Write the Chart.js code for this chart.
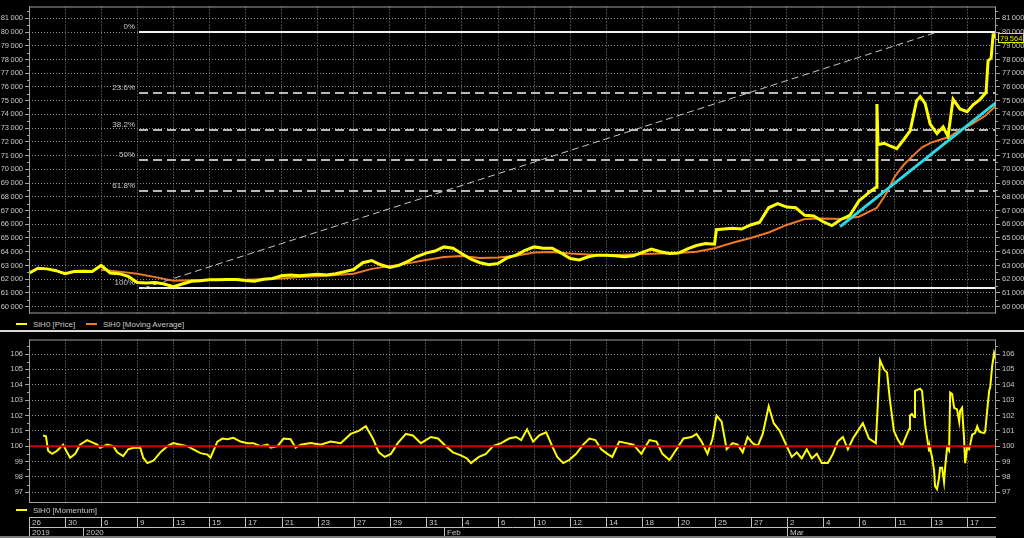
<!DOCTYPE html>
<html>
<head>
<meta charset="utf-8">
<title>SiH0</title>
<script src="https://cdn.jsdelivr.net/npm/chart.js@4.4.1/dist/chart.umd.min.js"></script>
<style>
    body { margin: 0; background: #000; width: 1024px; height: 538px; overflow: hidden; position: relative; font-family: "Liberation Sans", Arial, sans-serif; }
    canvas { position: absolute; left: 0; }
    #priceChart { top: 0; }
    #momChart { top: 333px; }
    .sep { position: absolute; left: 0; top: 330px; width: 1024px; height: 2px; background: #d8d8d8; }
    .legend { position: absolute; font-size: 8px; color: #c8c8c8; white-space: nowrap; line-height: 10px; }
    .legend i { display: inline-block; width: 11px; height: 2px; vertical-align: middle; margin-right: 6px; margin-top: -1px; }
</style>
</head>
<body>
<canvas id="priceChart" width="1024" height="320"></canvas>
<div class="legend" style="left:16px; top:320px;"><i style="background:#ffff00"></i>SiH0 [Price]</div>
<div class="legend" style="left:86px; top:320px;"><i style="background:#f07a22"></i>SiH0 [Moving Average]</div>
<div class="sep"></div>
<canvas id="momChart" width="1024" height="205"></canvas>
<div class="legend" style="left:16px; top:506px;"><i style="background:#ffff00"></i>SiH0 [Momentum]</div>

<script>
// x is a trading-day index: 0 = 26 Dec 2019, one unit per session
const xMax = 53.6;

// bottom axis labels
const dayTickIdx = [0, 2, 4, 6, 8, 10, 12, 14, 16, 18, 20, 22, 24, 26, 28, 30, 32, 34, 36, 38, 40, 42, 44, 46, 48, 50, 52];
const dayLabels = ['26', '30', '6', '9', '13', '15', '17', '21', '23', '27', '29', '31', '4', '6', '10', '12', '14', '18', '20', '25', '27', '2', '4', '6', '11', '13', '17'];
const periodIdx = [0, 3, 23, 42];
const periodLabels = ['2019', '2020', 'Feb', 'Mar'];

// price panel
const priceTicks = [60000, 61000, 62000, 63000, 64000, 65000, 66000, 67000, 68000, 69000, 70000,
    71000, 72000, 73000, 74000, 75000, 76000, 77000, 78000, 79000, 80000, 81000];

const priceX = [0, 0.5, 1, 1.5, 2, 2.5, 3, 3.5, 4, 4.5, 5, 5.5, 6, 6.5, 7, 7.5, 8, 8.5, 9, 9.5,
    10, 10.5, 11, 11.5, 12, 12.5, 13, 13.5, 14, 14.5, 15, 15.5, 16, 16.5, 17, 17.5, 18, 18.5, 19, 19.5,
    20, 20.5, 21, 21.5, 22, 22.5, 23, 23.5, 24, 24.5, 25, 25.5, 26, 26.5, 27, 27.5, 28, 28.5, 29, 29.5,
    30, 30.5, 31, 31.5, 32, 32.5, 33, 33.5, 34, 34.5, 35, 35.5, 36, 36.5, 37, 37.5, 38, 38.1, 38.5, 39, 39.5,
    40, 40.5, 41, 41.5, 42, 42.5, 43, 43.5, 44, 44.5, 45, 45.5, 46, 46.5, 46.95, 47.0, 47.06, 47.4, 47.73, 48.1, 48.45, 48.84,
    49.2, 49.4, 49.67, 49.95, 50.33, 50.67, 50.94, 51.22, 51.6, 52.0, 52.33, 52.72, 53.05, 53.16, 53.33, 53.44, 53.55, 53.6];
const priceY = [62440, 62800, 62750, 62620, 62400, 62560, 62580, 62560, 63000, 62450, 62400, 62200, 61750, 61720, 61760, 61650, 61450, 61650, 61850, 61880,
    61950, 61950, 61980, 61980, 61900, 61850, 62000, 62050, 62250, 62300, 62250, 62300, 62350, 62300, 62400, 62550, 62700, 63200, 63350, 63050,
    62850, 63000, 63300, 63650, 63900, 64050, 64350, 64250, 63850, 63450, 63200, 63050, 63150, 63550, 63750, 64100, 64350, 64250, 64250, 63900,
    63500, 63400, 63630, 63750, 63750, 63700, 63630, 63700, 63950, 64200, 64000, 63870, 63900, 64200, 64450, 64600, 64550, 65600, 65650, 65700, 65650,
    65950, 66150, 67200, 67500, 67250, 67200, 66650, 66600, 66200, 65900, 66350, 66650, 67700, 68250, 68700, 74750, 71800, 71900, 71700, 71500, 72100, 72800,
    75000, 75300, 74800, 73300, 72600, 73100, 72400, 75100, 74400, 74200, 74700, 75100, 75600, 77900, 78100, 79800, 79800, 79564];
const lastPrice = 79564;

const maX = [4, 5, 6, 7, 8, 9, 10, 11, 12, 13, 14, 15, 16, 17, 18, 19, 20, 21, 22, 23, 24, 25, 26, 27, 28, 29,
    30, 31, 32, 33, 34, 35, 36, 37, 38, 39, 40, 41, 42, 43, 44, 45, 46, 47, 47.5, 48, 48.5, 49, 49.5,
    50, 50.5, 51, 51.5, 52, 52.5, 53, 53.5, 53.6];
const maY = [62680, 62550, 62400, 62150, 61880, 61920, 61960, 61960, 61960, 62000, 62050, 62150, 62220, 62300, 62400, 62750, 62950, 63150, 63400, 63620, 63680, 63550, 63580, 63700, 63950, 63980,
    63870, 63800, 63750, 63780, 63830, 63870, 63900, 64000, 64250, 64650, 65000, 65400, 65950, 66380, 66420, 66380, 66550, 67200, 68200, 69500, 70350, 71000, 71600,
    71950, 72150, 72350, 72800, 73100, 73500, 73900, 74500, 74870];

// cyan trend line end points
const trendX = [44.96, 53.6];
const trendY = [65830, 74860];

// Fibonacci retracement
const fibHigh = 79980;
const fibLow = 61330;
const fibStartX = 6.1;
const fibLevels = [0, 23.6, 38.2, 50, 61.8, 100];
const fibLabels = ['0%', '23.6%', '38.2%', '50%', '61.8%', '100%'];
const fibDiagX = [6.3, 50.3];

// momentum panel
const momTicks = [97, 98, 99, 100, 101, 102, 103, 104, 105, 106];
const momBase = 100;
const momX = [0.78, 0.94, 1.06, 1.28, 1.56, 1.72, 1.89, 2.11, 2.28, 2.56, 2.83, 3.22, 3.78, 3.94, 4.33, 4.67, 4.89, 5.22, 5.5, 5.78,
    6.17, 6.33, 6.56, 6.89, 7.28, 7.67, 8.0, 8.39, 8.78, 9.11, 9.5, 9.89, 10.06, 10.44, 10.72, 11.0, 11.33, 11.72, 12.11, 12.44,
    12.83, 13.22, 13.39, 13.78, 14.11, 14.5, 14.78, 15.06, 15.61, 16.17, 16.72, 17.28, 17.83, 18.28, 18.67, 19.06, 19.39, 19.72, 20.06, 20.44,
    20.89, 21.28, 21.72, 22.28, 22.67, 23.11, 23.5, 23.94, 24.28, 24.5, 24.94, 25.33, 25.72, 26.17, 26.61, 27.0, 27.28, 27.61, 27.94, 28.28,
    28.67, 29.0, 29.28, 29.61, 29.94, 30.33, 30.72, 31.06, 31.39, 31.72, 32.06, 32.33, 32.72, 33.11, 33.5, 33.94, 34.39, 34.78, 35.11, 35.5,
    35.89, 36.28, 36.72, 37.0, 37.28, 37.61, 37.89, 38.11, 38.39, 38.67, 39.0, 39.28, 39.56, 39.83, 40.11, 40.39, 40.67, 41.0, 41.28, 41.61,
    42.0, 42.28, 42.56, 42.83, 43.11, 43.39, 43.67, 43.94, 44.28, 44.56, 44.83, 45.11, 45.39, 45.67, 45.94, 46.22, 46.56, 46.94, 47.17, 47.39,
    47.56, 47.72, 47.94, 48.17, 48.39, 48.56, 48.78, 48.83, 48.94, 49.06, 49.11, 49.39, 49.5, 49.67, 49.89, 49.94, 50.06, 50.17, 50.22, 50.33,
    50.44, 50.5, 50.61, 50.72, 50.78, 50.89, 51.0, 51.06, 51.17, 51.28, 51.44, 51.56, 51.61, 51.72, 51.83, 51.89, 52.0, 52.11, 52.17, 52.28,
    52.44, 52.56, 52.67, 52.94, 53.0, 53.11, 53.22, 53.28, 53.39, 53.5, 53.56, 53.6];
const momY = [100.7, 100.65, 99.7, 99.5, 99.7, 99.9, 100.1, 99.6, 99.25, 99.5, 100.1, 100.4, 100.1, 99.9, 100.1, 100.0, 99.6, 99.35, 99.8, 99.9,
    99.9, 99.25, 98.9, 99.05, 99.6, 100.0, 100.2, 100.1, 100.0, 99.8, 99.55, 99.45, 99.25, 100.3, 100.5, 100.45, 100.55, 100.3, 100.2, 100.2,
    100.0, 100.1, 99.9, 100.0, 100.5, 100.45, 99.9, 100.1, 100.2, 100.1, 100.3, 100.2, 100.8, 101.0, 101.3, 100.5, 99.6, 99.3, 99.5, 100.2,
    100.8, 100.7, 100.2, 100.6, 100.5, 100.0, 99.6, 99.4, 99.2, 98.9, 99.3, 99.5, 100.0, 100.2, 100.5, 100.6, 100.4, 101.1, 100.3, 100.7,
    100.9, 100.0, 99.3, 98.9, 99.1, 99.5, 100.1, 100.5, 100.4, 99.8, 99.5, 99.3, 100.3, 100.2, 100.1, 99.5, 100.4, 100.3, 99.5, 99.1,
    99.8, 100.5, 100.6, 100.8, 100.3, 99.5, 100.5, 102.0, 101.6, 99.8, 100.2, 100.1, 99.6, 100.6, 100.2, 100.0, 100.8, 102.6, 101.5, 101.0,
    100.0, 99.3, 99.6, 99.2, 99.8, 99.2, 99.5, 98.9, 98.9, 99.5, 100.3, 100.6, 99.8, 100.5, 101.0, 101.5, 100.5, 100.2, 105.6, 105.0,
    104.8, 103.0, 101.0, 100.4, 100.0, 100.5, 101.1, 102.0, 102.1, 101.9, 103.6, 103.75, 103.6, 101.4, 99.7, 99.9, 99.25, 98.4, 97.4, 97.2,
    97.9, 98.6, 98.6, 97.65, 98.6, 99.9, 99.7, 103.5, 103.4, 102.5, 102.4, 101.6, 102.3, 102.5, 100.5, 98.9, 99.9, 99.8, 100.1, 100.75,
    100.85, 101.3, 100.95, 100.85, 100.95, 102.3, 103.6, 103.85, 105.25, 106.1, 105.9, 105.6];

const textColor = '#c8c8c8';
const gridColor = '#8a8a8a';
const frameColor = '#a0a0a0';
const fontFamily = '"Liberation Sans", Arial, sans-serif';
const axisFont = { family: fontFamily, size: 7.5 };

const pts = (xs, ys) => xs.map((x, i) => ({ x, y: ys[i] }));
// thin space as thousands separator, like the terminal does
const fmtThousands = v => String(v).replace(/\B(?=(\d{3})+(?!\d))/g, '\u2009');

// shared axis pieces
function xAxis() {
    return {
        type: 'linear', min: 0, max: xMax,
        afterBuildTicks: s => { s.ticks = dayTickIdx.map(v => ({ value: v })); },
        afterFit: s => { s.height = 0; },
        ticks: { display: false },
        grid: { color: gridColor, drawTicks: false },
        border: { display: false, dash: [1, 2] }
    };
}

function yAxis(position, min, max, tickValues, width, fmt, onArea) {
    return {
        type: 'linear', position, min, max,
        afterBuildTicks: s => { s.ticks = tickValues.map(v => ({ value: v })); },
        afterFit: s => { s.width = width; },
        ticks: { color: textColor, font: axisFont, padding: 2, callback: fmt },
        grid: { color: gridColor, drawOnChartArea: onArea, tickLength: 4, tickColor: frameColor, tickBorderDash: [], tickWidth: 1 },
        border: { display: false, dash: [1, 2] }
    };
}

// plot frame + minor ticks on both y axes
const framePlugin = {
    id: 'frame',
    afterDraw(chart, args, opts) {
        const { ctx, chartArea: a } = chart;
        const y = chart.scales.y;
        ctx.save();
        ctx.strokeStyle = frameColor;
        ctx.lineWidth = 1;
        ctx.setLineDash([]);
        ctx.strokeRect(a.left + 0.5, a.top + 0.5, a.right - a.left - 1, a.bottom - a.top - 1);
        ctx.beginPath();
        opts.minor.forEach(v => {
            const py = Math.round(y.getPixelForValue(v)) + 0.5;
            ctx.moveTo(a.left - 2, py); ctx.lineTo(a.left, py);
            ctx.moveTo(a.right, py); ctx.lineTo(a.right + 2, py);
        });
        ctx.stroke();
        ctx.restore();
    }
};

const fibPlugin = {
    id: 'fib',
    beforeDatasetsDraw(chart) {
        const { ctx, chartArea: a, scales: { x, y } } = chart;
        const x0 = Math.round(x.getPixelForValue(fibStartX));
        ctx.save();
        ctx.font = '8px ' + fontFamily;
        ctx.textAlign = 'right';
        ctx.textBaseline = 'bottom';
        fibLevels.forEach((lvl, i) => {
            const solid = lvl === 0 || lvl === 100;
            const py = Math.round(y.getPixelForValue(fibHigh - (fibHigh - fibLow) * lvl / 100));
            ctx.strokeStyle = solid ? '#f2f2f2' : '#b8b8b8';
            ctx.lineWidth = 2;
            ctx.setLineDash(solid ? [] : [9, 5]);
            ctx.beginPath();
            ctx.moveTo(x0, py);
            ctx.lineTo(a.right - 1, py);
            ctx.stroke();
            ctx.fillStyle = textColor;
            ctx.fillText(fibLabels[i], x0 - 4, py - 1);
        });
        ctx.strokeStyle = '#c8c8c8';
        ctx.lineWidth = 1;
        ctx.setLineDash([7, 4]);
        ctx.beginPath();
        ctx.moveTo(x.getPixelForValue(fibDiagX[0]), y.getPixelForValue(fibLow));
        ctx.lineTo(x.getPixelForValue(fibDiagX[1]), y.getPixelForValue(fibHigh));
        ctx.stroke();
        ctx.restore();
    }
};

const lastPricePlugin = {
    id: 'lastPrice',
    afterDraw(chart) {
        const { ctx, chartArea: a, scales: { y } } = chart;
        const py = Math.round(y.getPixelForValue(lastPrice));
        ctx.save();
        ctx.fillStyle = '#000';
        ctx.fillRect(a.right + 2, py - 5, 26, 10);
        ctx.strokeStyle = '#e6e600';
        ctx.lineWidth = 1;
        ctx.strokeRect(a.right + 2.5, py - 4.5, 25, 9);
        ctx.fillStyle = '#e6e600';
        ctx.font = '7.5px ' + fontFamily;
        ctx.textBaseline = 'middle';
        ctx.fillText(fmtThousands(lastPrice), a.right + 4, py + 0.5);
        ctx.restore();
    }
};

// two-row date strip under the momentum panel
const dateAxisPlugin = {
    id: 'dateAxis',
    afterDraw(chart) {
        const { ctx, chartArea: a, scales: { x } } = chart;
        const r1 = a.bottom + 14, r2 = a.bottom + 24, r3 = chart.height - 2;
        ctx.save();
        ctx.strokeStyle = '#c0c0c0';
        ctx.lineWidth = 1;
        ctx.setLineDash([]);
        ctx.beginPath();
        ctx.moveTo(a.left, r1 + 0.5); ctx.lineTo(a.right, r1 + 0.5);
        ctx.moveTo(a.left, r2 + 0.5); ctx.lineTo(a.right, r2 + 0.5);
        ctx.stroke();
        ctx.fillStyle = '#7a7a7a';
        ctx.fillRect(0, r3, a.right, 2);
        ctx.font = '8px ' + fontFamily;
        ctx.textBaseline = 'middle';
        ctx.fillStyle = textColor;
        ctx.beginPath();
        dayTickIdx.forEach((d, i) => {
            const px = Math.round(x.getPixelForValue(d)) + 0.5;
            ctx.moveTo(px, r1); ctx.lineTo(px, r2);
            ctx.fillText(dayLabels[i], px + 2.5, r1 + 5.5);
        });
        periodIdx.forEach((d, i) => {
            const px = Math.round(x.getPixelForValue(d)) + 0.5;
            ctx.moveTo(px, r2); ctx.lineTo(px, r3);
            ctx.fillText(periodLabels[i], px + 2.5, r2 + 5.5);
        });
        ctx.stroke();
        ctx.restore();
    }
};

const baseOptions = (padBottom) => ({
    responsive: false,
    animation: false,
    layout: { padding: { top: 4, bottom: padBottom, left: 0, right: 0 }, autoPadding: false },
    elements: { point: { radius: 0 }, line: { tension: 0 } }
});

const priceMinor = priceTicks.map(v => v + 500).filter(v => v < 81860);
const momMinor = momTicks.map(v => v + 0.5).filter(v => v < 106.9);

new Chart(document.getElementById('priceChart'), {
    type: 'line',
    data: {
        datasets: [
            { label: 'Trend', data: pts(trendX, trendY), borderColor: '#2fd8e6', borderWidth: 3 },
            { label: 'SiH0 [Price]', data: pts(priceX, priceY), borderColor: '#ffff00', borderWidth: 3 },
            { label: 'SiH0 [Moving Average]', data: pts(maX, maY), borderColor: '#f07a22', borderWidth: 2 }
        ]
    },
    options: {
        ...baseOptions(4),
        plugins: { legend: { display: false }, tooltip: { enabled: false }, frame: { minor: priceMinor } },
        scales: {
            x: xAxis(),
            y: yAxis('left', 59500, 81860, priceTicks, 29, fmtThousands, true),
            y2: yAxis('right', 59500, 81860, priceTicks, 28, fmtThousands, false)
        }
    },
    plugins: [fibPlugin, framePlugin, lastPricePlugin]
});

new Chart(document.getElementById('momChart'), {
    type: 'line',
    data: {
        datasets: [
            { label: 'Base', data: [{ x: 0, y: momBase }, { x: xMax, y: momBase }], borderColor: '#d40000', borderWidth: 2 },
            { label: 'SiH0 [Momentum]', data: pts(momX, momY), borderColor: '#ffff00', borderWidth: 2 }
        ]
    },
    options: {
        ...baseOptions(35),
        plugins: { legend: { display: false }, tooltip: { enabled: false }, frame: { minor: momMinor } },
        scales: {
            x: xAxis(),
            y: yAxis('left', 96.3, 106.95, momTicks, 29, v => v, true),
            y2: yAxis('right', 96.3, 106.95, momTicks, 28, v => v, false)
        }
    },
    plugins: [framePlugin, dateAxisPlugin]
});
</script>
</body>
</html>
